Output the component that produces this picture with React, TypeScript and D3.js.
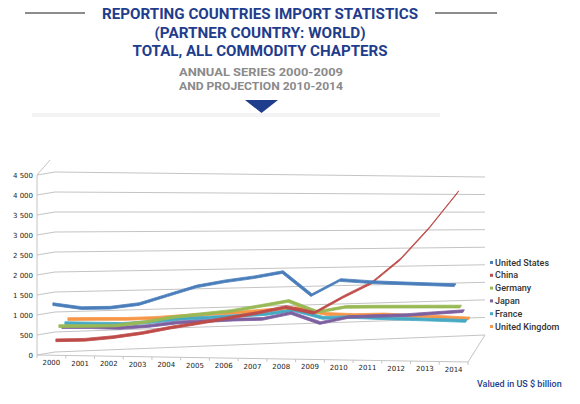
import React from "react";
import * as d3 from "d3";

const years = ["2000", "2001", "2002", "2003", "2004", "2005", "2006", "2007", "2008", "2009", "2010", "2011", "2012", "2013", "2014"];
const seriesNames = ["United States", "China", "Germany", "Japan", "France", "United Kingdom"];
const seriesColors = ["#4a7ebb", "#be4b48", "#98b954", "#7d60a0", "#46aac5", "#f79646"];
const unitedStates = [1270, 1180, 1200, 1300, 1530, 1760, 1900, 2010, 2150, 1580, 1970, 1930, 1910, 1895, 1880];
const china = [350, 365, 435, 540, 680, 800, 930, 1060, 1215, 1070, 1480, 1850, 2460, 3270, 4200];
const germany = [690, 690, 700, 785, 910, 985, 1060, 1185, 1315, 1030, 1160, 1165, 1165, 1165, 1165];
const japan = [650, 640, 610, 650, 730, 760, 790, 800, 945, 675, 825, 845, 860, 905, 950];
const france = [735, 710, 685, 720, 785, 805, 835, 870, 960, 740, 750, 705, 665, 625, 580];
const unitedKingdom = [820, 805, 785, 790, 820, 855, 875, 920, 955, 775, 725, 720, 655, 605, 540];
const yTicks = [0, 500, 1000, 1500, 2000, 2500, 3000, 3500, 4000, 4500];
const titleLines = ["REPORTING COUNTRIES IMPORT STATISTICS", "(PARTNER COUNTRY: WORLD)", "TOTAL, ALL COMMODITY CHAPTERS"];
const subtitleLines = ["ANNUAL SERIES 2000-2009", "AND PROJECTION 2010-2014"];

const allSeries = [unitedStates, china, germany, japan, france, unitedKingdom];

const W = 580;
const H = 404;
const navy = "#1f3d8c";

// 3D box corners (front plane w=0, back plane w=1), u along categories
const xFront = d3.scaleLinear().domain([0, 1]).range([37, 468]);
const xBack = d3.scaleLinear().domain([0, 1]).range([55, 485]);
const yFrontBottom = d3.scaleLinear().domain([0, 1]).range([355, 362]);
const yBackBottom = d3.scaleLinear().domain([0, 1]).range([352, 335]);
const yFrontTop = d3.scaleLinear().domain([0, 1]).range([175, 182]);
const yBackTop = d3.scaleLinear().domain([0, 1]).range([172, 177]);

const band = d3.scaleBand().domain(years).range([0, 1]);
const vScale = d3.scaleLinear().domain([0, 4500]).range([0, 1]);

function project(u: number, value: number, w: number): [number, number] {
  const x = xFront(u) + (xBack(u) - xFront(u)) * w;
  const y0 = yFrontBottom(u) + (yBackBottom(u) - yFrontBottom(u)) * w;
  const y1 = yFrontTop(u) + (yBackTop(u) - yFrontTop(u)) * w;
  return [x, y0 + (y1 - y0) * vScale(value)];
}

const uOf = (yr: string) => (band(yr) as number) + band.bandwidth() / 2;

const App = () => {
  const ref = React.useRef<SVGSVGElement>(null);

  React.useEffect(() => {
    const svg = d3.select(ref.current);
    svg.selectAll("*").remove();

    // header
    svg.append("line").attr("x1", 25).attr("x2", 85).attr("y1", 13).attr("y2", 13)
      .attr("stroke", "#8c8c8c").attr("stroke-width", 2);
    svg.append("line").attr("x1", 435).attr("x2", 497).attr("y1", 13).attr("y2", 13)
      .attr("stroke", "#8c8c8c").attr("stroke-width", 2);

    const titleWidths = [316, 211, 255];
    titleLines.forEach((t, i) => {
      svg.append("text")
        .attr("x", 260).attr("y", 19 + i * 18.5)
        .attr("text-anchor", "middle")
        .attr("font-family", "Roboto, 'DejaVu Sans', sans-serif")
        .attr("font-weight", 700).attr("font-size", 15.5)
        .attr("fill", navy)
        .attr("textLength", titleWidths[i]).attr("lengthAdjust", "spacingAndGlyphs")
        .text(t);
    });
    const subWidths = [164, 164];
    subtitleLines.forEach((t, i) => {
      svg.append("text")
        .attr("x", 261).attr("y", 75.5 + i * 14)
        .attr("text-anchor", "middle")
        .attr("font-family", "Roboto, 'DejaVu Sans', sans-serif")
        .attr("font-weight", 700).attr("font-size", 11.5)
        .attr("fill", "#8a8a8a")
        .attr("textLength", subWidths[i]).attr("lengthAdjust", "spacingAndGlyphs")
        .text(t);
    });
    svg.append("path").attr("d", "M245,100 L278,100 L261.5,113 Z").attr("fill", navy);
    svg.append("rect").attr("x", 32).attr("y", 113).attr("width", 408).attr("height", 4)
      .attr("fill", "#f3f3f3");

    const grid = svg.append("g").attr("fill", "none").attr("stroke", "#c4c4c4").attr("stroke-width", 1);

    // back wall gridlines and left wall diagonals
    yTicks.forEach((t) => {
      const [bx0, by0] = project(0, t, 1);
      const [bx1, by1] = project(1, t, 1);
      const [fx, fy] = project(0, t, 0);
      grid.append("line").attr("x1", bx0).attr("y1", by0).attr("x2", bx1).attr("y2", by1);
      grid.append("line").attr("x1", fx).attr("y1", fy).attr("x2", bx0).attr("y2", by0);
    });
    // left axis line and top edge
    const [ax0, ay0] = project(0, 0, 0);
    const [ax1, ay1] = project(0, 4500, 0);
    grid.append("line").attr("x1", ax0).attr("y1", ay0).attr("x2", ax1).attr("y2", ay1);
    grid.append("line").attr("x1", ax1).attr("y1", ay1).attr("x2", ax1 + 13).attr("y2", ay1 - 15);

    // floor
    const [fr0x, fr0y] = project(1, 0, 0);
    const [br0x, br0y] = project(1, 0, 1);
    grid.append("line").attr("x1", ax0).attr("y1", ay0).attr("x2", fr0x).attr("y2", fr0y);
    grid.append("line").attr("x1", fr0x).attr("y1", fr0y).attr("x2", br0x).attr("y2", br0y);
    band.domain().forEach((yr) => {
      const u = band(yr) as number;
      const [tx, ty] = project(u, 0, 0);
      grid.append("line").attr("x1", tx).attr("y1", ty).attr("x2", tx).attr("y2", ty + 3);
    });
    grid.append("line").attr("x1", fr0x).attr("y1", fr0y).attr("x2", fr0x).attr("y2", fr0y + 3);

    // y labels
    const fmt = (v: number) => (v >= 1000 ? `${Math.floor(v / 1000)} ${String(v % 1000).padStart(3, "0")}` : `${v}`);
    yTicks.forEach((t) => {
      const [, y] = project(0, t, 0);
      svg.append("text")
        .attr("x", 33).attr("y", y + 2.5)
        .attr("text-anchor", "end")
        .attr("font-family", "'DejaVu Sans', sans-serif")
        .attr("font-size", 7).attr("fill", "#222")
        .text(fmt(t));
    });

    // x labels
    years.forEach((yr) => {
      const [x, y] = project(uOf(yr), 0, 0);
      svg.append("text")
        .attr("x", x).attr("y", y + 10)
        .attr("text-anchor", "middle")
        .attr("font-family", "'DejaVu Sans', sans-serif")
        .attr("font-size", 7).attr("fill", "#222")
        .text(yr);
    });

    // series drawn as 3D ribbons (depth offset leans right with u), back to front
    for (let i = allSeries.length - 1; i >= 0; i--) {
      const w = (i + 0.5) / allSeries.length;
      const pts = allSeries[i].map((v, j) => {
        const u = uOf(years[j]);
        const [x, y] = project(u, v, w);
        return { x, y, ox: 1.6 * u, oy: -2.7 };
      });
      const top = pts.map((p) => [p.x + p.ox / 2, p.y + p.oy / 2] as [number, number]);
      const bottom = pts.map((p) => [p.x - p.ox / 2, p.y - p.oy / 2] as [number, number]).reverse();
      const poly = d3.line<[number, number]>()([...top, ...bottom]) + "Z";
      svg.append("path")
        .attr("d", poly)
        .attr("fill", seriesColors[i])
        .attr("stroke", seriesColors[i])
        .attr("stroke-width", 0.8)
        .attr("stroke-linejoin", "round");
    }

    // legend
    seriesNames.forEach((name, i) => {
      const y = 265.5 + i * 12.8;
      svg.append("rect").attr("x", 490).attr("y", y - 4.5).attr("width", 3).attr("height", 3)
        .attr("fill", seriesColors[i]);
      svg.append("text")
        .attr("x", 495).attr("y", y)
        .attr("font-family", "Roboto, sans-serif")
        .attr("font-weight", 500).attr("font-size", 9)
        .attr("fill", "#333")
        .text(name);
    });

    svg.append("text")
      .attr("x", 477).attr("y", 387)
      .attr("font-family", "Roboto, sans-serif")
      .attr("font-weight", 500).attr("font-size", 9)
      .attr("fill", navy)
      .text("Valued in US $ billion");
  }, []);

  return (
    <svg ref={ref} width={W} height={H} style={{ position: "absolute", left: 0, top: 0, background: "#fff" }} />
  );
};

export default App;
